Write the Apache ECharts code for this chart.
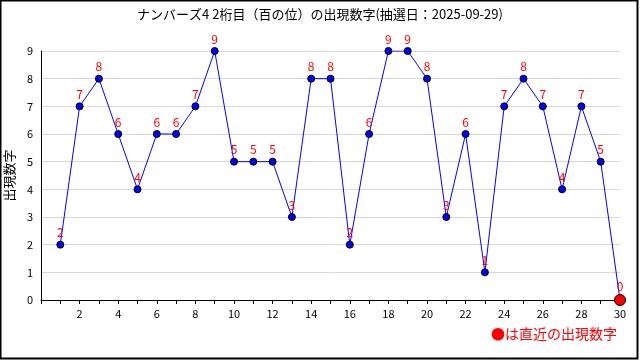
<!DOCTYPE html>
<html><head><meta charset="utf-8">
<script src="https://cdn.jsdelivr.net/npm/echarts@6/dist/echarts.min.js"></script>
<style>html,body{margin:0;padding:0;background:#fff}#c{width:640px;height:360px}</style>
</head><body><div id="c"></div>
<script>
const draws = [1,2,3,4,5,6,7,8,9,10,11,12,13,14,15,16,17,18,19,20,21,22,23,24,25,26,27,28,29,30];
const digits = [2,7,8,6,4,6,6,7,9,5,5,5,3,8,8,2,6,9,9,8,3,6,1,7,8,7,4,7,5,0];
const titleText = 'ナンバーズ4 2桁目（百の位）の出現数字(抽選日：2025-09-29)';
const yName = '出現数字';
const noteText = '●は直近の出現数字';
const font = '"Noto Sans CJK JP", "DejaVu Sans", sans-serif';

const chart = echarts.init(document.getElementById('c'));
const pts = draws.map((d, i) => {
  const last = i === draws.length - 1;
  return {
    value: [d, digits[i]],
    symbolSize: last ? 11 : 7,
    itemStyle: { color: last ? '#ff0000' : '#0000ff', borderColor: '#000', borderWidth: 1 }
  };
});
chart.setOption({
  animation: false,
  title: { text: titleText, left: 'center', top: 3,
    textStyle: { fontSize: 13, fontWeight: 'normal', color: '#000', fontFamily: font } },
  grid: { left: 41, right: 20, top: 51, bottom: 60, containLabel: false, outerBoundsMode: 'none' },
  xAxis: {
    type: 'value', min: 0, max: 30, interval: 1,
    axisLine: { lineStyle: { color: '#000', width: 1 } },
    axisTick: { show: true, length: 4, lineStyle: { color: '#000' } },
    axisLabel: { color: '#000', fontSize: 11, margin: 8, fontFamily: font,
      formatter: v => (v > 0 && v % 2 === 0) ? String(v) : '' },
    splitLine: { show: false }
  },
  yAxis: {
    type: 'value', min: 0, max: 9, interval: 1,
    name: yName, nameLocation: 'middle', nameGap: 24, nameRotate: 90,
    nameTextStyle: { color: '#000', fontSize: 13, fontFamily: font },
    axisLine: { show: true, lineStyle: { color: '#000', width: 1 } },
    axisTick: { show: false },
    axisLabel: { color: '#000', fontSize: 11, margin: 8, fontFamily: font },
    splitLine: { show: true, lineStyle: { color: '#d8d8d8', width: 1 } }
  },
  series: [{
    type: 'line', data: pts, symbol: 'circle',
    lineStyle: { color: '#0000ff', width: 1 },
    label: { show: true, position: 'top', distance: 2, color: '#ff0000', fontSize: 12,
      fontFamily: font, formatter: p => String(p.value[1]) }
  }],
  graphic: [
    { type: 'rect', shape: { x: 0.5, y: 0.5, width: 637, height: 358 },
      style: { fill: 'none', stroke: '#000', lineWidth: 2 }, silent: true },
    { type: 'text', right: 23, top: 327,
      style: { text: noteText, fill: '#ff0000', font: '14px ' + font } }
  ]
});
</script></body></html>
